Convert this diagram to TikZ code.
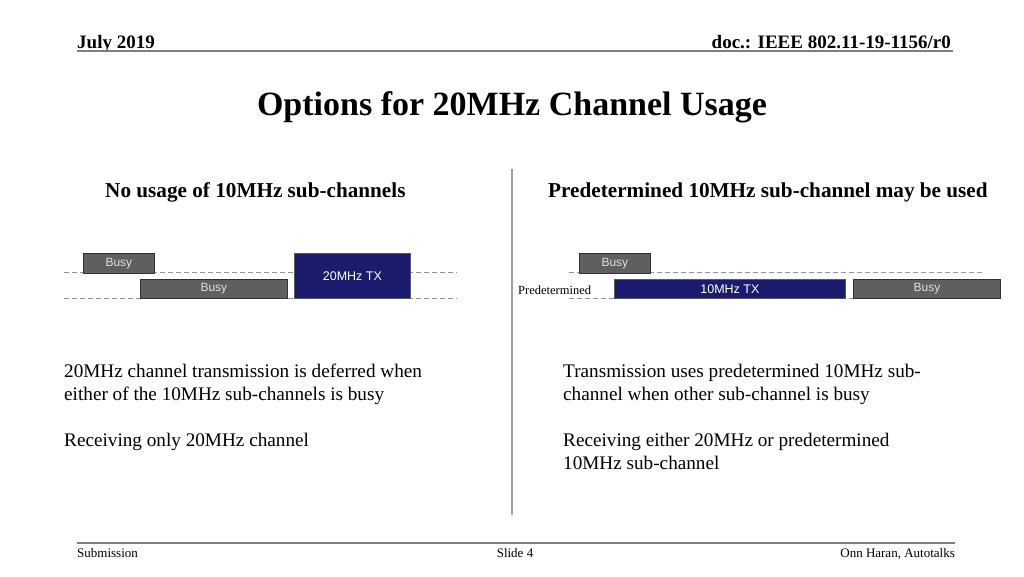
\documentclass[tikz,border=0pt]{standalone}
\usepackage{fontspec}
\setmainfont{Liberation Serif}
\setsansfont{Liberation Sans}
\usetikzlibrary{positioning}

\definecolor{busygray}{HTML}{5F5F5F}
\definecolor{busyedge}{HTML}{333333}
\definecolor{txblue}{HTML}{1B1B6E}
\definecolor{rulegray}{HTML}{7F7F7F}

\begin{document}
\begin{tikzpicture}[x=1pt, y=-1pt,
  busybox/.style={draw=busyedge, fill=busygray, text=white!88!black, anchor=north west, inner sep=0pt, line width=0.8pt, font=\sffamily\fontsize{12}{14}\selectfont},
  txbox/.style={draw=gray!70!black, fill=txblue, text=white, anchor=north west, inner sep=0pt, line width=0.8pt, font=\sffamily\fontsize{12.5}{14}\selectfont},
  chan/.style={draw=gray!85, line width=0.8pt, dash pattern=on 5pt off 3pt},
  hdr/.style={anchor=base west, inner sep=0pt, font=\bfseries\fontsize{19}{22}\selectfont},
  subhd/.style={anchor=base west, inner sep=0pt, font=\bfseries\fontsize{21.2}{24}\selectfont},
  body/.style={anchor=base west, inner sep=0pt, align=left, font=\fontsize{19.2}{23}\selectfont},
  foot/.style={anchor=base, inner sep=0pt, font=\fontsize{13}{15}\selectfont}
]
\useasboundingbox (0,0) rectangle (1024,576);

% ---- Header ----
\node[hdr] (date) at (77,48) {July 2019};
\node[hdr, anchor=base east] (doc) at (951,48) {doc.: IEEE 802.11-19-1156/r0};
\draw[rulegray, line width=1.8pt] (77,51) -- (953,51);
\node[anchor=base, inner sep=0pt, font=\bfseries\fontsize{34}{38}\selectfont] (title) at (512,115) {Options for 20MHz Channel Usage};

% ---- Divider ----
\draw[gray!75, line width=1.8pt] (512,169) -- (512,515);

% ---- Left: no usage of 10MHz sub-channels ----
\node[subhd] (lhead) at (105,197) {No usage of 10MHz sub-channels};
\coordinate (lupA) at (64,272);  \coordinate (lupB) at (457,272);
\coordinate (llowA) at (64,298); \coordinate (llowB) at (457,298);
\draw[chan] (lupA) -- (lupB);
\draw[chan] (llowA) -- (llowB);
\node[busybox, minimum width=71pt, minimum height=20pt] (lbusyup) at (83,253) {Busy};
\node[busybox, minimum width=147pt, minimum height=19pt] (lbusylow) at (140,279) {Busy};
\node[txbox, minimum width=116pt, minimum height=45pt] (tx20) at (294,253) {20MHz TX};

% two-line nodes sit on the baseline of their last line
\node[body] (ltext) at (64,400) {20MHz channel transmission is deferred when\\either of the 10MHz sub-channels is busy};
\node[body] (lrx) at (64,446) {Receiving only 20MHz channel};

% ---- Right: predetermined 10MHz sub-channel ----
\node[subhd] (rhead) at (548,197) {Predetermined 10MHz sub-channel may be used};
\coordinate (rupA) at (569,272);  \coordinate (rupB) at (985,272);
\coordinate (rlowA) at (569,298); \coordinate (rlowB) at (985,298);
\draw[chan] (rupA) -- (rupB);
\draw[chan] (rlowA) -- (rlowB);
\node[anchor=base west, inner sep=0pt, font=\fontsize{12.5}{14}\selectfont] (predet) at (518,294) {Predetermined};
\node[busybox, minimum width=71pt, minimum height=20pt] (rbusyup) at (579,253) {Busy};
\node[txbox, minimum width=231pt, minimum height=19pt] (tx10) at (614,279) {10MHz TX};
\node[busybox, minimum width=147pt, minimum height=19pt] (rbusylow) at (853,279) {Busy};

\node[body] (rtext) at (563,400) {Transmission uses predetermined 10MHz sub-\\channel when other sub-channel is busy};
\node[body] (rrx) at (563,469) {Receiving either 20MHz or predetermined\\10MHz sub-channel};

% ---- Footer ----
\draw[rulegray, line width=1.8pt] (77,543) -- (955,543);
\node[foot, anchor=base west] (subm) at (77,557) {Submission};
\node[foot] (slide) at (515,557) {Slide 4};
\node[foot, anchor=base east] (author) at (955,557) {Onn Haran, Autotalks};

\end{tikzpicture}
\end{document}
